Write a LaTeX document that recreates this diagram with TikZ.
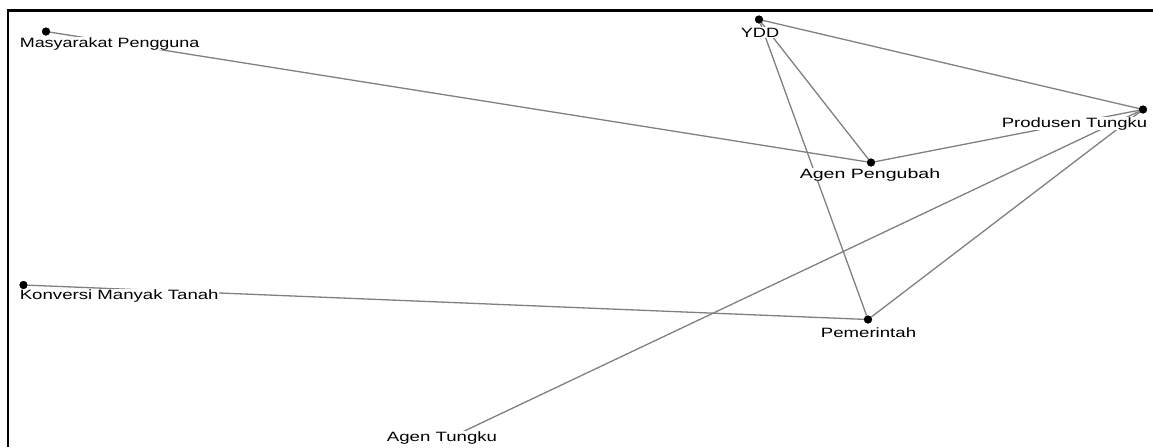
\documentclass[tikz,border=0pt]{standalone}
\usepackage{fontspec}
\setmainfont{Liberation Sans}
\begin{document}
\begin{tikzpicture}[x=1pt,y=-1pt,
  dot/.style={circle,fill=black,inner sep=0pt,minimum size=8pt},
  edge/.style={draw=black!50,line width=1.3pt},
  lbl/.style={fill=white,inner sep=0.6pt,font=\fontsize{13.5}{15}\selectfont},
  frame/.style={draw=black,line width=2.7pt}]
\useasboundingbox (0,0) rectangle (1153,447);
% node points
\node[dot] (mp) at (46,31.5) {};
\node[dot] (ydd) at (759,19.5) {};
\node[dot] (pt) at (1143,109.5) {};
\node[dot] (ap) at (871,162.5) {};
\node[dot] (kmt) at (23.5,285) {};
\node[dot] (pem) at (868,319.5) {};
\coordinate (at) at (439,443);
% connectors
\draw[edge] (mp) -- (ap);
\draw[edge] (ydd) -- (ap);
\draw[edge] (ydd) -- (pem);
\draw[edge] (ydd) -- (pt);
\draw[edge] (ap) -- (pt);
\draw[edge] (pt) -- (pem);
\draw[edge] (pt) -- (at);
\draw[edge] (kmt) -- (pem);
% labels
\node[lbl,anchor=base west] (mpl) at (19,47) {\scalebox{1.33}[1]{Masyarakat Pengguna}};
\node[lbl,anchor=base] (yddl) at (760,37) {\scalebox{1.35}[1]{YDD}};
\node[lbl,anchor=base east] (ptl) at (1148,127) {\scalebox{1.37}[1]{Produsen Tungku}};
\node[lbl,anchor=base] (apl) at (870,178) {\scalebox{1.45}[1]{Agen Pengubah}};
\node[lbl,anchor=base west] (kmtl) at (19,299.5) {\scalebox{1.38}[1]{Konversi Manyak Tanah}};
\node[lbl,anchor=base] (peml) at (868.5,337) {\scalebox{1.38}[1]{Pemerintah}};
\node[lbl,anchor=base] (atl) at (442,441.5) {\scalebox{1.38}[1]{Agen Tungku}};
% redraw dots on top
\foreach \n in {mp,ydd,pt,ap,kmt,pem} \fill (\n) circle (4pt);
% frame
\draw[frame] (8,447) -- (8,10.3) -- (1153,10.3);
\end{tikzpicture}
\end{document}
